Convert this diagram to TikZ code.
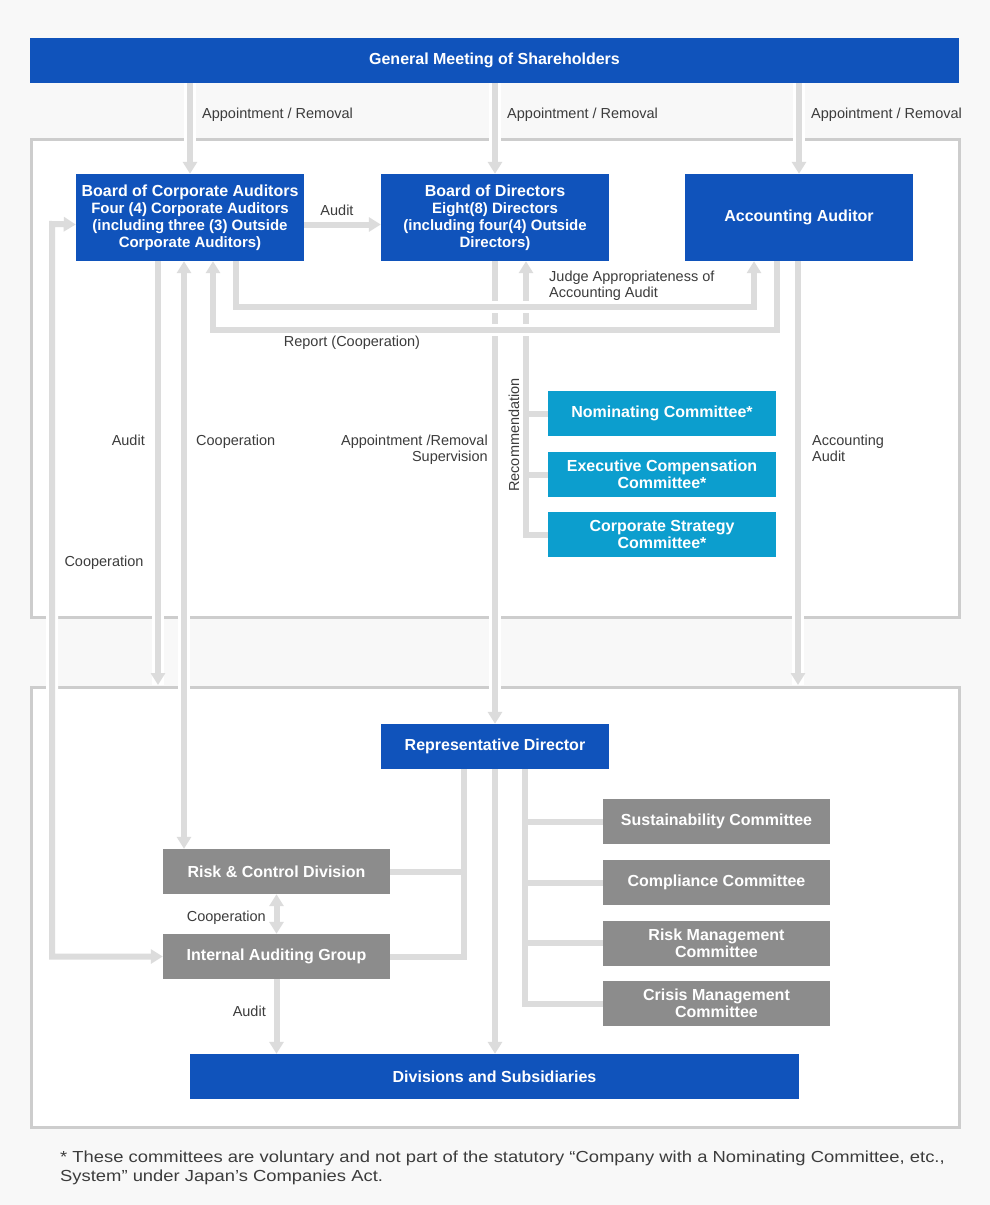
\documentclass[tikz,border=0pt]{standalone}
\usepackage{fontspec}
\setmainfont{Liberation Sans}
\usetikzlibrary{arrows.meta}

\definecolor{orgblue}{HTML}{1053BB}
\definecolor{orgcyan}{HTML}{0C9ECE}
\definecolor{orggray}{HTML}{8C8C8C}
\definecolor{linegray}{HTML}{DCDCDC}
\definecolor{panelgray}{HTML}{CDCDCD}
\definecolor{bggray}{HTML}{F8F8F8}
\definecolor{labelgray}{HTML}{3C3C3C}

\newcommand\orgboxfont{\bfseries\fontsize{16}{17}\selectfont}
\newcommand\orgsubfont{\fontsize{15}{17}\selectfont}
\newcommand\orglabelfont{\fontsize{14.5}{16}\selectfont}
\newcommand\orgnotefont{\addfontfeatures{FakeStretch=1.15}\fontsize{16}{19}\selectfont}

\begin{document}
\begin{tikzpicture}[x=1pt,y=-1pt,
   blue box/.style={fill=orgblue,text=white,font=\orgboxfont,inner sep=0pt,align=center,minimum width=228pt,minimum height=45pt},
   cyan box/.style={blue box,fill=orgcyan},
   gray box/.style={blue box,fill=orggray,minimum width=227pt},
   panel/.style={fill=white,draw=panelgray,line width=3pt},
   conn/.style={draw=linegray,line width=6pt},
   oneway/.style={-{Triangle[width=14pt,length=12pt]}},
   twoway/.style={{Triangle[width=14pt,length=12pt]}-{Triangle[width=14pt,length=12pt]}},
   halo/.style={preaction={draw=white,line width=12pt,arrows=-}},
   lbl/.style={font=\orglabelfont,text=labelgray,inner sep=0pt,align=left}]
   \useasboundingbox[fill=bggray] (0,0) rectangle (990,1205);

   % panels
   \draw[panel] (31,139) rectangle (959,617);
   \draw[panel] (31,687) rectangle (959,1127);
   \coordinate (lo) at (31,685);
   \coordinate (cl) at (52,224);

   % boxes
   \node[blue box,minimum width=929pt] (gms) at (494.5,60.5) {General Meeting of Shareholders};
   \node[blue box,minimum height=87pt] (bca) at (190,217.5) {Board of Corporate Auditors\\\orgsubfont Four (4) Corporate Auditors\\\orgsubfont (including three (3) Outside\\\orgsubfont Corporate Auditors)};
   \node[blue box,minimum height=87pt] (bod) at (495,217.5) {Board of Directors\\\orgsubfont Eight(8) Directors\\\orgsubfont (including four(4) Outside\\\orgsubfont Directors)};
   \node[blue box,minimum height=87pt] (aa) at (799,217.5) {Accounting Auditor};
   \node[cyan box] (nom) at (662,413.5) {Nominating Committee*};
   \node[cyan box] (exe) at (662,474.5) {Executive Compensation\\Committee*};
   \node[cyan box] (cst) at (662,534.5) {Corporate Strategy\\Committee*};
   \node[blue box] (rep) at (495,746.5) {Representative Director};
   \node[gray box] (sus) at (716.5,821.5) {Sustainability Committee};
   \node[gray box] (cmp) at (716.5,882.5) {Compliance Committee};
   \node[gray box] (rsk) at (716.5,943) {Risk Management\\Committee};
   \node[gray box] (crs) at (716.5,1003.5) {Crisis Management\\Committee};
   \node[gray box] (rcd) at (276.5,871.5) {Risk \& Control Division};
   \node[gray box] (iag) at (276.5,956.5) {Internal Auditing Group};
   \node[blue box,minimum width=609pt] (div) at (494.5,1076.5) {Divisions and Subsidiaries};

   % upper connectors
   \foreach \n in {bca,bod,aa}
      \draw[conn,oneway,halo] (gms.south -| \n.north) -- (\n.north);
   \draw[conn,oneway] ([yshift=-7pt]bca.east) -- ([yshift=-7pt]bca.east -| bod.west);
   \draw[conn,oneway,halo] ([xshift=-32pt]bca.south) -- ([xshift=-32pt]bca.south |- lo);
   \draw[conn,twoway,halo] ([xshift=-6pt]bca.south) -- ([xshift=-6pt]bca.south |- rcd.north);
   \draw[conn,twoway,halo] (iag.west) -| (cl) -- ([yshift=-7pt]bca.west);
   \draw[conn,oneway,halo] ([xshift=-1pt]aa.south) -- ([xshift=-1pt]aa.south |- lo);
   \draw[conn,oneway,halo] (bod.south) -- (rep.north);
   \coordinate (rec) at ([xshift=31pt]bod.south);
   \draw[conn,oneway,halo] (cst.west) -| (rec);
   \foreach \n in {nom,exe}
      \draw[conn] (\n.west) -- (\n.west -| rec);
   \draw[conn,oneway,halo] ([xshift=46pt]bca.south) -- ++(0,46) -| ([xshift=-45pt]aa.south);
   \draw[conn,oneway,halo] ([xshift=-22pt]aa.south) -- ++(0,69) -| ([xshift=23pt]bca.south);

   % lower connectors
   \draw[conn,oneway] (rep.south) -- (rep.south |- div.north);
   \coordinate (rl) at ([xshift=-31pt]rep.south);
   \coordinate (rr) at ([xshift=30pt]rep.south);
   \draw[conn] (rl) |- (iag.east);
   \draw[conn] (rcd.east) -- (rcd.east -| rl);
   \draw[conn] (rr) |- (crs.west);
   \foreach \n in {sus,cmp,rsk}
      \draw[conn] (\n.west) -- (\n.west -| rr);
   \draw[conn,twoway] (rcd.south) -- (iag.north);
   \draw[conn,oneway] (iag.south) -- (iag.south |- div.north);

   % labels
   \node[lbl,anchor=base west] (l ar1) at (202,118) {Appointment / Removal};
   \node[lbl,anchor=base west] (l ar2) at (507,118) {Appointment / Removal};
   \node[lbl,anchor=base west] (l ar3) at (811,118) {Appointment / Removal};
   \node[lbl,anchor=base] (l audit1) at (337,215) {Audit};
   \node[lbl,anchor=base west] (l judge) at (549,297) {Judge Appropriateness of\\Accounting Audit};
   \node[lbl,anchor=base] (l report) at (352,346) {Report (Cooperation)};
   \node[lbl,anchor=base east] (l audit2) at (145,445) {Audit};
   \node[lbl,anchor=base west] (l coop1) at (196,445) {Cooperation};
   \node[lbl,anchor=base east,align=right] (l apsup) at (488,461) {Appointment /Removal\\Supervision};
   \node[lbl,rotate=90] (l rec) at (514,435) {Recommendation};
   \node[lbl,anchor=base west] (l acc) at (812,461) {Accounting\\Audit};
   \node[lbl,anchor=base] (l coop2) at (104,566) {Cooperation};
   \node[lbl,anchor=base east] (l coop3) at (266,921) {Cooperation};
   \node[lbl,anchor=base east] (l audit3) at (266,1016) {Audit};
   \node[lbl,anchor=base west,font=\orgnotefont] (note) at (60,1181) {* These committees are voluntary and not part of the statutory “Company with a Nominating Committee, etc.,\\System” under Japan’s Companies Act.};
\end{tikzpicture}
\end{document}
